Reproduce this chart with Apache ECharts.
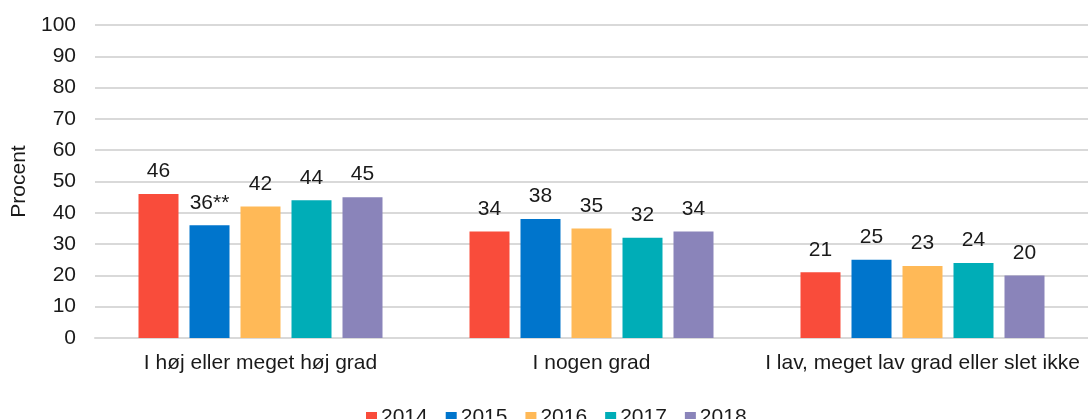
<!DOCTYPE html>
<html>
<head>
<meta charset="utf-8" />
<title>Procent</title>
<script src="https://cdn.jsdelivr.net/npm/echarts@6/dist/echarts.min.js"></script>
</head>
<body style="margin: 0">
<div id="container" style="width: 1088px; height: 419px"></div>
<script type="text/javascript">
var categories = ['I høj eller meget høj grad', 'I nogen grad', 'I lav, meget lav grad eller slet ikke'];
var years = ['2014', '2015', '2016', '2017', '2018'];
var v2014 = [46, 34, 21];
var v2015 = [36, 38, 25];
var v2016 = [42, 35, 23];
var v2017 = [44, 32, 24];
var v2018 = [45, 34, 20];
var notes2015 = ['**', '', ''];
var colors = ['#F94C3B', '#0075CC', '#FFB957', '#00ADB7', '#8A84BA'];

var font = 'Liberation Sans, Arial, sans-serif';
var values = [v2014, v2015, v2016, v2017, v2018];
var notes = [null, notes2015, null, null, null];

var series = [];
for (var i = 0; i < years.length; i++) {
    (function (i) {
        series.push({
            name: years[i],
            type: 'bar',
            data: values[i],
            barWidth: 40,
            barGap: '27.5%',
            itemStyle: { color: colors[i] },
            label: {
                show: true,
                position: 'top',
                distance: 12,
                color: '#1a1a1a',
                fontFamily: font,
                fontSize: 21,
                formatter: function (p) {
                    return p.value + (notes[i] ? notes[i][p.dataIndex] : '');
                }
            }
        });
    })(i);
}

var myChart = echarts.init(document.getElementById('container'));
var option = {
    animation: false,
    color: colors,
    grid: { left: 95, right: -3, top: 25, bottom: 81 },
    legend: {
        data: years,
        left: 361,
        top: 402,
        itemWidth: 11,
        itemHeight: 11,
        itemGap: 18,
        icon: 'rect',
        textStyle: { color: '#1a1a1a', fontFamily: font, fontSize: 21, padding: [0, 0, 0, -1] }
    },
    xAxis: {
        type: 'category',
        data: categories,
        axisLine: { show: true, lineStyle: { color: '#d9d9d9', width: 2 } },
        axisTick: { show: false },
        axisLabel: { color: '#1a1a1a', fontFamily: font, fontSize: 21, margin: 15, interval: 0 }
    },
    yAxis: {
        type: 'value',
        min: 0,
        max: 100,
        interval: 10,
        name: 'Procent',
        nameLocation: 'middle',
        nameGap: 63,
        nameTextStyle: { color: '#1a1a1a', fontFamily: font, fontSize: 21 },
        axisLine: { show: false },
        axisTick: { show: false },
        axisLabel: { color: '#1a1a1a', fontFamily: font, fontSize: 21, margin: 19 },
        splitLine: { lineStyle: { color: '#d9d9d9', width: 2 } }
    },
    series: series
};
myChart.setOption(option);
</script>
</body>
</html>
